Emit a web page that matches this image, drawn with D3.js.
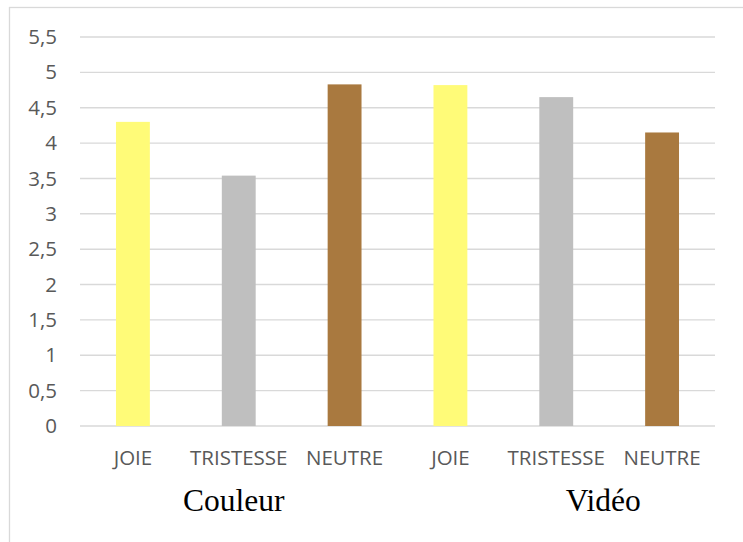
<!DOCTYPE html>
<html>
<head>
<meta charset="utf-8">
<script src="https://cdn.jsdelivr.net/npm/d3@7"></script>
<style>
  html, body { margin: 0; padding: 0; background: #fff; }
  svg { display: block; }
</style>
</head>
<body>
<svg id="chart" width="743" height="542"></svg>
<script>
// ---- data ----
const categories = ["JOIE", "TRISTESSE", "NEUTRE", "JOIE", "TRISTESSE", "NEUTRE"];
const values = [4.30, 3.54, 4.83, 4.82, 4.65, 4.15];
const barColors = ["#FFFB78", "#BFBFBF", "#A9793F", "#FFFB78", "#BFBFBF", "#A9793F"];
const groups = ["Couleur", "Vidéo"];
const yTicks = [0, 0.5, 1, 1.5, 2, 2.5, 3, 3.5, 4, 4.5, 5, 5.5];
const yTickLabels = ["0", "0,5", "1", "1,5", "2", "2,5", "3", "3,5", "4", "4,5", "5", "5,5"];

(function () {
  // ---- layout ----
  const svg = d3.select("#chart");
  const pLeft = 80, pRight = 715, pTop = 37, pBottom = 426;

  // outer border (chart area frame)
  svg.append("rect")
    .attr("x", 9.5).attr("y", 7.5)
    .attr("width", 760).attr("height", 560)
    .attr("fill", "none").attr("stroke", "#D9D9D9").attr("stroke-width", 1.3);

  const x = d3.scaleBand()
    .domain(d3.range(categories.length))
    .range([pLeft, pRight])
    .paddingInner(0.68)
    .paddingOuter(0.34);

  const y = d3.scaleLinear().domain([0, 5.5]).range([pBottom, pTop]);

  // gridlines
  svg.append("g").selectAll("line")
    .data(yTicks)
    .join("line")
    .attr("x1", pLeft).attr("x2", pRight)
    .attr("y1", d => y(d)).attr("y2", d => y(d))
    .attr("stroke", "#D9D9D9").attr("stroke-width", 1.4);

  // y axis labels
  const yAxis = d3.axisLeft(y)
    .tickValues(yTicks)
    .tickFormat((d, i) => yTickLabels[i])
    .tickSize(0)
    .tickPadding(0);
  const yg = svg.append("g").attr("transform", "translate(57,0)").call(yAxis);
  yg.select(".domain").remove();
  yg.selectAll("text")
    .attr("fill", "#595959")
    .style("font-family", "'Open Sans', sans-serif")
    .style("font-size", "20.5px");

  // bars
  svg.append("g").selectAll("rect")
    .data(values)
    .join("rect")
    .attr("x", (d, i) => x(i))
    .attr("width", x.bandwidth())
    .attr("y", d => y(d))
    .attr("height", d => y(0) - y(d))
    .attr("fill", (d, i) => barColors[i]);

  // x axis category labels
  const xAxis = d3.axisBottom(x)
    .tickFormat(i => categories[i])
    .tickSize(0)
    .tickPadding(0);
  const xg = svg.append("g").attr("transform", `translate(0,${pBottom})`).call(xAxis);
  xg.select(".domain").remove();
  xg.selectAll("text")
    .attr("dy", null)
    .attr("y", 39)
    .attr("fill", "#595959")
    .style("font-family", "'Open Sans', sans-serif")
    .style("font-size", "20.5px");

  // group labels
  const groupPos = [x(1) + x.bandwidth() / 2 - 5, x(4) + x.bandwidth() / 2 + 47];
  svg.append("g").selectAll("text")
    .data(groups)
    .join("text")
    .attr("x", (d, i) => groupPos[i])
    .attr("y", 511)
    .attr("text-anchor", "middle")
    .attr("fill", "#000")
    .style("font-family", "'Liberation Serif', 'Times New Roman', serif")
    .style("font-size", "31.5px")
    .text(d => d);
})();
</script>
</body>
</html>
